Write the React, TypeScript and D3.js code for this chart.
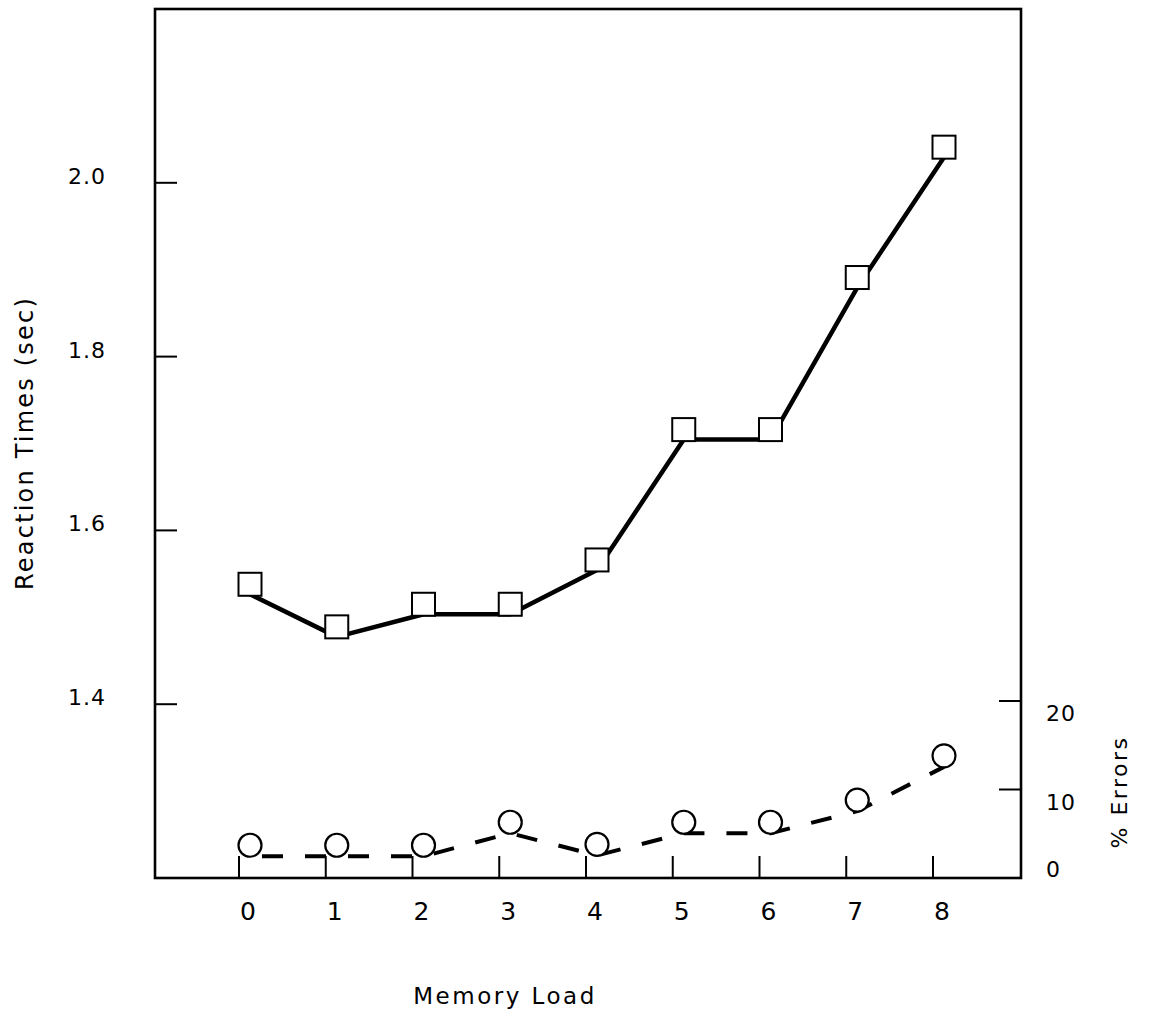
import React from 'react';
import * as d3 from 'd3';

// memory load categories and the two measured series
const memoryLoads = [0, 1, 2, 3, 4, 5, 6, 7, 8];
const reactionTimes = [1.538, 1.489, 1.515, 1.515, 1.566, 1.716, 1.716, 1.891, 2.041];
const errorRates = [3.7, 3.7, 3.7, 6.3, 3.8, 6.3, 6.3, 8.8, 13.8];

const rtTicks = [1.4, 1.6, 1.8, 2.0];
const errTicks = [0, 10, 20];

const W = 1151;
const H = 1018;
const frame = { left: 155, right: 1021, top: 9, bottom: 878 };
const font = '"DejaVu Sans", Verdana, sans-serif';

const App = () => {
    const x = d3.scaleLinear().domain([0, 8]).range([250, 944]);
    const yRt = d3.scaleLinear().domain([1.2, 2.2]).range([frame.bottom, frame.top]);
    const yErr = d3.scaleLinear().domain([0, 20]).range([frame.bottom, 701]);
    const fmt = d3.format('.1f');

    const tickLen = 22;
    const tickShift = -11; // x ticks sit a bit left of the markers in the original

    // lines run along the bottom of the markers
    const rtLine = d3.line<number>()
        .x((d, i) => x(memoryLoads[i]))
        .y(d => yRt(d) + 10);
    const errLine = d3.line<number>()
        .x((d, i) => x(memoryLoads[i]))
        .y(d => yErr(d) + 11);

    const sq = 23;
    const r = 11.5;

    return (
        <svg width={W} height={H} style={{ position: 'absolute', left: 0, top: 0, background: '#fff' }}
             fontFamily={font}>
            {/* frame */}
            <rect x={frame.left} y={frame.top}
                  width={frame.right - frame.left} height={frame.bottom - frame.top}
                  fill="none" stroke="#000" strokeWidth={2.6} />

            {/* left axis ticks + labels */}
            {rtTicks.map(t => (
                <g key={'rt' + t}>
                    <line x1={frame.left} x2={frame.left + tickLen} y1={yRt(t)} y2={yRt(t)}
                          stroke="#000" strokeWidth={2} />
                    <text x={106} y={yRt(t) + 1} textAnchor="end" fontSize={22}
                          letterSpacing={1}>{fmt(t)}</text>
                </g>
            ))}

            {/* right axis ticks + labels */}
            {errTicks.map(t => (
                <g key={'err' + t}>
                    {t > 0 && (
                        <line x1={frame.right - tickLen} x2={frame.right} y1={yErr(t)} y2={yErr(t)}
                              stroke="#000" strokeWidth={2} />
                    )}
                    <text x={1046} y={yErr(t) + (t === 0 ? -1 : 20)} fontSize={22}
                          letterSpacing={1}>{t}</text>
                </g>
            ))}

            {/* bottom ticks + labels */}
            {memoryLoads.map(m => (
                <g key={'x' + m}>
                    <line x1={x(m) + tickShift} x2={x(m) + tickShift}
                          y1={frame.bottom} y2={frame.bottom - tickLen}
                          stroke="#000" strokeWidth={2} />
                    <text x={x(m) - 2} y={920} textAnchor="middle" fontSize={25}>{m}</text>
                </g>
            ))}

            {/* reaction time series */}
            <path d={rtLine(reactionTimes) || ''} fill="none" stroke="#000"
                  strokeWidth={4.5} strokeLinejoin="round" />
            {reactionTimes.map((v, i) => (
                <rect key={'sq' + i} x={x(memoryLoads[i]) - sq / 2} y={yRt(v) - sq / 2}
                      width={sq} height={sq} fill="#fff" stroke="#000" strokeWidth={2} />
            ))}

            {/* error series */}
            <path d={errLine(errorRates) || ''} fill="none" stroke="#000"
                  strokeWidth={4} strokeDasharray="21 22" strokeDashoffset={31} />
            {errorRates.map((v, i) => (
                <circle key={'c' + i} cx={x(memoryLoads[i])} cy={yErr(v)} r={r}
                        fill="#fff" stroke="#000" strokeWidth={2.2} />
            ))}

            {/* axis titles */}
            <text transform="translate(33,443) rotate(-90)" textAnchor="middle"
                  fontSize={24} letterSpacing={2.2}>Reaction Times (sec)</text>
            <text transform="translate(1127,792) rotate(-90)" textAnchor="middle"
                  fontSize={22} letterSpacing={2.5}>% Errors</text>
            <text x={505} y={1004} textAnchor="middle" fontSize={23}
                  letterSpacing={2.5}>Memory Load</text>
        </svg>
    );
};

export default App;
